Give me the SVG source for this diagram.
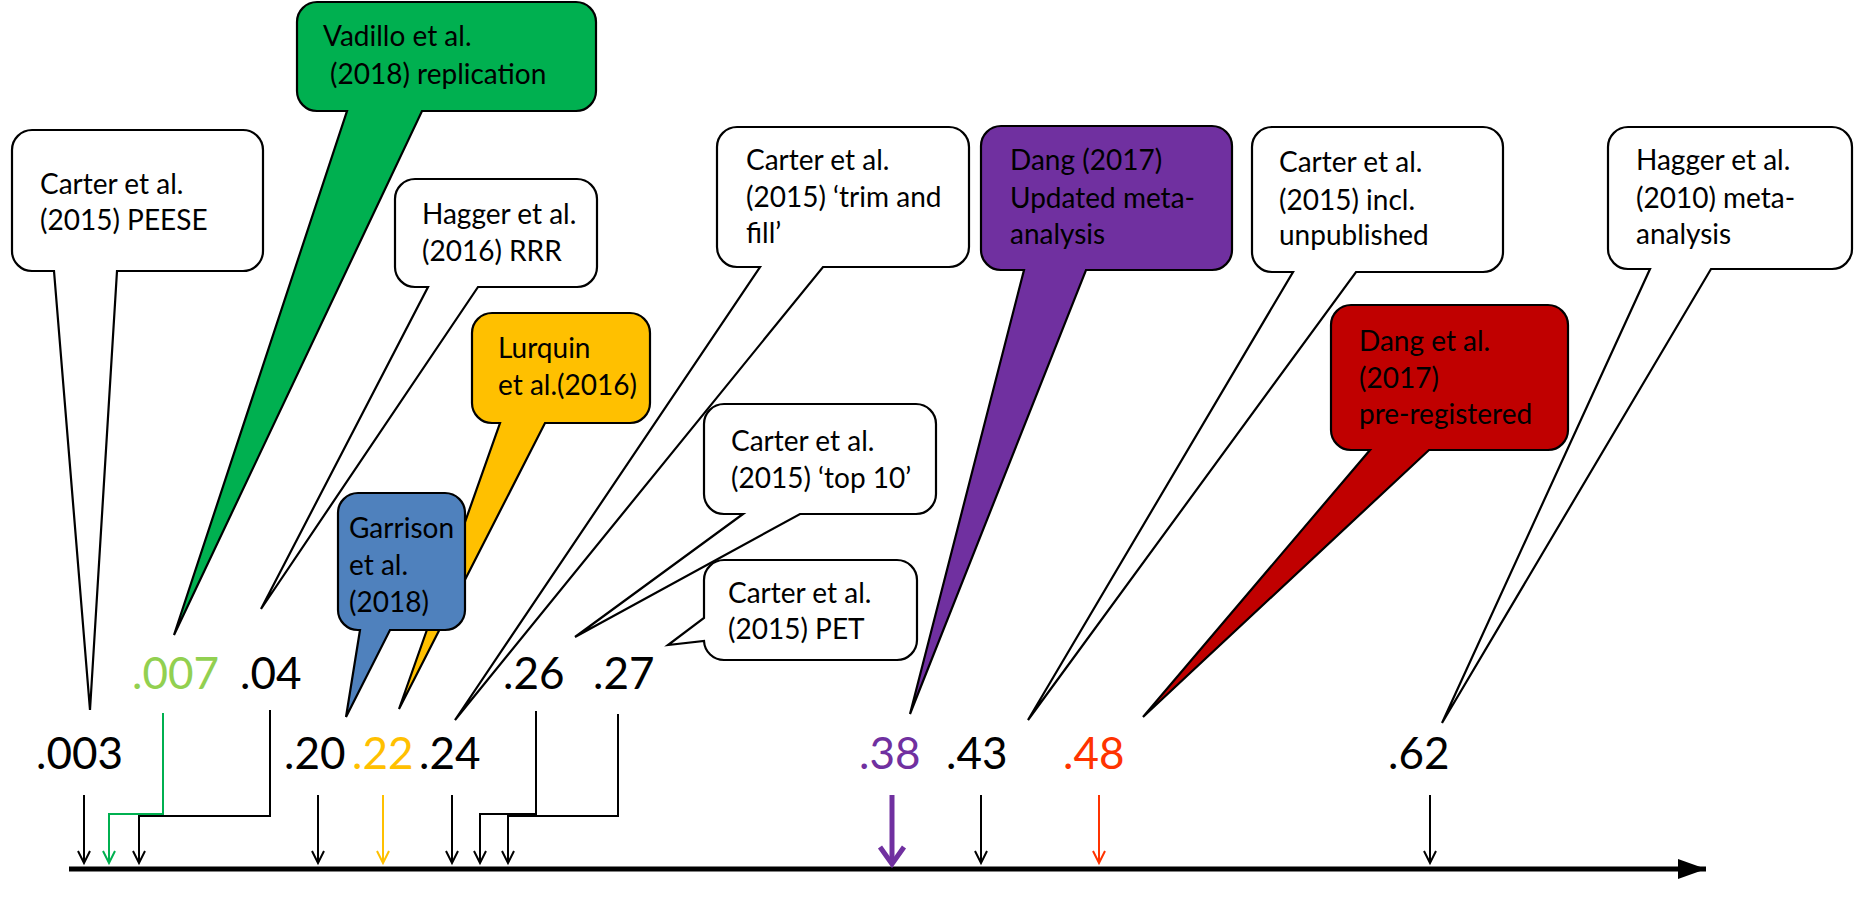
<svg xmlns="http://www.w3.org/2000/svg" width="1860" height="898" viewBox="0 0 1860 898">
<defs>
<style>
text{font-family:Lato,'Open Sans','Liberation Sans',sans-serif;fill:#000}
.lbl{font-size:28px}
.num{font-size:44px}
.co{stroke:#000;stroke-width:2.2;stroke-linejoin:miter}
.w{fill:#fff}
.ln{fill:none;stroke:#000;stroke-width:2}
</style>
<marker id="ah" markerWidth="16" markerHeight="16" refX="13" refY="8" orient="auto" markerUnits="userSpaceOnUse"><path d="M1,2 L13,8 L1,14" fill="none" stroke="#000" stroke-width="2"/></marker>
<marker id="ahg" markerWidth="16" markerHeight="16" refX="13" refY="8" orient="auto" markerUnits="userSpaceOnUse"><path d="M1,2 L13,8 L1,14" fill="none" stroke="#00B050" stroke-width="2"/></marker>
<marker id="aho" markerWidth="16" markerHeight="16" refX="13" refY="8" orient="auto" markerUnits="userSpaceOnUse"><path d="M1,2 L13,8 L1,14" fill="none" stroke="#FFC000" stroke-width="2"/></marker>
<marker id="ahr" markerWidth="16" markerHeight="16" refX="13" refY="8" orient="auto" markerUnits="userSpaceOnUse"><path d="M1,2 L13,8 L1,14" fill="none" stroke="#FF3300" stroke-width="2"/></marker>
<marker id="ahp" markerWidth="26" markerHeight="30" refX="20" refY="15" orient="auto" markerUnits="userSpaceOnUse"><path d="M3,3 L20,15 L3,27" fill="none" stroke="#7030A0" stroke-width="5"/></marker>
<marker id="axh" markerWidth="30" markerHeight="24" refX="28" refY="12" orient="auto" markerUnits="userSpaceOnUse"><path d="M0,2 L28,12 L0,22 Z" fill="#000"/></marker>
</defs>
<rect width="1860" height="898" fill="#fff"/>

<g id="connectors">
<line x1="69" y1="869" x2="1706" y2="869" stroke="#000" stroke-width="5" marker-end="url(#axh)"/>
<polyline class="ln" points="84,795 84,863" marker-end="url(#ah)"/>
<polyline class="ln" points="270,710 270,816 139,816 139,863" marker-end="url(#ah)"/>
<polyline fill="none" stroke="#00B050" stroke-width="2" points="163,713 163,814 109,814 109,863" marker-end="url(#ahg)"/>
<polyline class="ln" points="318,795 318,863" marker-end="url(#ah)"/>
<polyline fill="none" stroke="#FFC000" stroke-width="2" points="383,795 383,863" marker-end="url(#aho)"/>
<polyline class="ln" points="452,795 452,863" marker-end="url(#ah)"/>
<polyline class="ln" points="536,711 536,814 480,814 480,863" marker-end="url(#ah)"/>
<polyline class="ln" points="618,714 618,816 508,816 508,863" marker-end="url(#ah)"/>
<polyline fill="none" stroke="#7030A0" stroke-width="5" points="892,795 892,864" marker-end="url(#ahp)"/>
<polyline class="ln" points="981,795 981,863" marker-end="url(#ah)"/>
<polyline fill="none" stroke="#FF3300" stroke-width="2" points="1099,795 1099,863" marker-end="url(#ahr)"/>
<polyline class="ln" points="1430,795 1430,863" marker-end="url(#ah)"/>
</g>

<g id="values">
<text class="num" x="36" y="769">.003</text>
<text class="num" x="132" y="689" style="fill:#92D050">.007</text>
<text class="num" x="240" y="689">.04</text>
<text class="num" x="284" y="769">.20</text>
<text class="num" x="352" y="769" style="fill:#FFC000">.22</text>
<text class="num" x="419" y="769">.24</text>
<text class="num" x="503" y="689">.26</text>
<text class="num" x="593" y="689">.27</text>
<text class="num" x="859" y="769" style="fill:#7030A0">.38</text>
<text class="num" x="946" y="769">.43</text>
<text class="num" x="1063" y="769" style="fill:#FF3300">.48</text>
<text class="num" x="1388" y="769">.62</text>
</g>

<g id="peese">
<path class="co w" d="M32,130 H243 A20,20 0 0 1 263,150 V251 A20,20 0 0 1 243,271 H117 L90,710 L54,271 H32 A20,20 0 0 1 12,251 V150 A20,20 0 0 1 32,130 Z"/>
<text class="lbl" x="40" y="194">Carter et al.</text>
<text class="lbl" x="40" y="230">(2015) PEESE</text>
</g>

<g id="vadillo">
<path class="co" fill="#00B050" d="M317,2 H576 A20,20 0 0 1 596,22 V91 A20,20 0 0 1 576,111 H422 L174,635 L347,111 H317 A20,20 0 0 1 297,91 V22 A20,20 0 0 1 317,2 Z"/>
<text class="lbl" x="323" y="46">Vadillo et al.</text>
<text class="lbl" x="330" y="84">(2018) replication</text>
</g>

<g id="hagger2016">
<path class="co w" d="M415,179 H577 A20,20 0 0 1 597,199 V267 A20,20 0 0 1 577,287 H478 L261,609 L428,287 H415 A20,20 0 0 1 395,267 V199 A20,20 0 0 1 415,179 Z"/>
<text class="lbl" x="422" y="224">Hagger et al.</text>
<text class="lbl" x="422" y="261">(2016) RRR</text>
</g>

<g id="lurquin">
<path class="co" fill="#FFC000" d="M492,313 H630 A20,20 0 0 1 650,333 V403 A20,20 0 0 1 630,423 H545 L399,709 L500,423 H492 A20,20 0 0 1 472,403 V333 A20,20 0 0 1 492,313 Z"/>
<text class="lbl" x="498" y="358">Lurquin</text>
<text class="lbl" x="498" y="395">et al.(2016)</text>
</g>

<g id="garrison">
<path class="co" fill="#4F81BD" d="M358,493 H445 A20,20 0 0 1 465,513 V610 A20,20 0 0 1 445,630 H390 L346,717 L360,630 H358 A20,20 0 0 1 338,610 V513 A20,20 0 0 1 358,493 Z"/>
<text class="lbl" x="349" y="538">Garrison</text>
<text class="lbl" x="349" y="575">et al.</text>
<text class="lbl" x="349" y="612">(2018)</text>
</g>

<g id="top10">
<path class="co w" d="M724,404 H916 A20,20 0 0 1 936,424 V494 A20,20 0 0 1 916,514 H800 L575,637 L743,514 H724 A20,20 0 0 1 704,494 V424 A20,20 0 0 1 724,404 Z"/>
<text class="lbl" x="731" y="451">Carter et al.</text>
<text class="lbl" x="731" y="488">(2015) ‘top 10’</text>
</g>

<g id="trimfill">
<path class="co w" d="M737,127 H949 A20,20 0 0 1 969,147 V247 A20,20 0 0 1 949,267 H823 L455,720 L760,267 H737 A20,20 0 0 1 717,247 V147 A20,20 0 0 1 737,127 Z"/>
<text class="lbl" x="746" y="170">Carter et al.</text>
<text class="lbl" x="746" y="207">(2015) ‘trim and</text>
<text class="lbl" x="746" y="243">fill’</text>
</g>

<g id="pet">
<path class="co w" d="M724,560 H897 A20,20 0 0 1 917,580 V640 A20,20 0 0 1 897,660 H724 A20,20 0 0 1 704,641 L668,645 L704,618 V580 A20,20 0 0 1 724,560 Z"/>
<text class="lbl" x="728" y="603">Carter et al.</text>
<text class="lbl" x="728" y="639">(2015) PET</text>
</g>

<g id="dang2017">
<path class="co" fill="#7030A0" d="M1001,126 H1212 A20,20 0 0 1 1232,146 V250 A20,20 0 0 1 1212,270 H1086 L910,714 L1024,270 H1001 A20,20 0 0 1 981,250 V146 A20,20 0 0 1 1001,126 Z"/>
<text class="lbl" x="1010" y="170">Dang (2017)</text>
<text class="lbl" x="1010" y="208">Updated meta-</text>
<text class="lbl" x="1010" y="244">analysis</text>
</g>

<g id="unpublished">
<path class="co w" d="M1272,127 H1483 A20,20 0 0 1 1503,147 V252 A20,20 0 0 1 1483,272 H1356 L1028,720 L1293,272 H1272 A20,20 0 0 1 1252,252 V147 A20,20 0 0 1 1272,127 Z"/>
<text class="lbl" x="1279" y="172">Carter et al.</text>
<text class="lbl" x="1279" y="210">(2015) incl.</text>
<text class="lbl" x="1279" y="245">unpublished</text>
</g>

<g id="dangetal">
<path class="co" fill="#C00000" d="M1351,305 H1548 A20,20 0 0 1 1568,325 V430 A20,20 0 0 1 1548,450 H1429 L1143,717 L1370,450 H1351 A20,20 0 0 1 1331,430 V325 A20,20 0 0 1 1351,305 Z"/>
<text class="lbl" x="1359" y="351">Dang et al.</text>
<text class="lbl" x="1359" y="388">(2017)</text>
<text class="lbl" x="1359" y="424">pre-registered</text>
</g>

<g id="hagger2010">
<path class="co w" d="M1628,127 H1832 A20,20 0 0 1 1852,147 V249 A20,20 0 0 1 1832,269 H1711 L1442,723 L1650,269 H1628 A20,20 0 0 1 1608,249 V147 A20,20 0 0 1 1628,127 Z"/>
<text class="lbl" x="1636" y="170">Hagger et al.</text>
<text class="lbl" x="1636" y="208">(2010) meta-</text>
<text class="lbl" x="1636" y="244">analysis</text>
</g>
</svg>
